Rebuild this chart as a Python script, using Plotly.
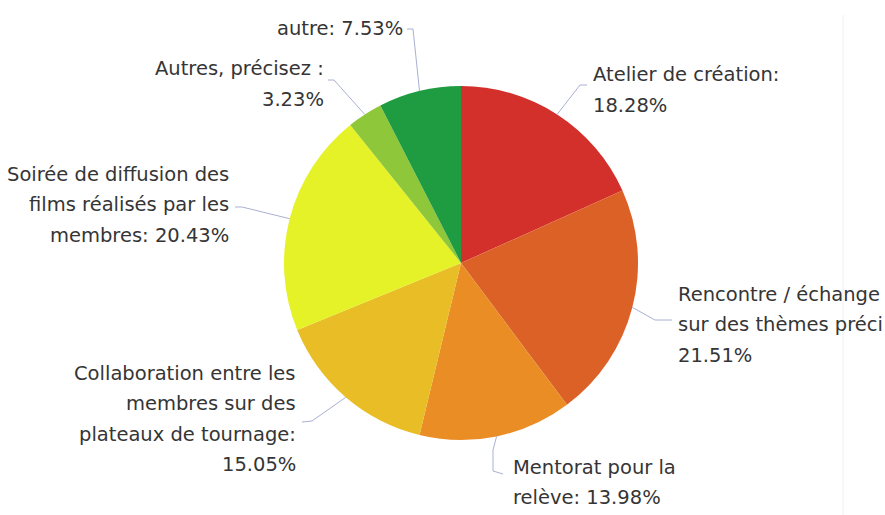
import math
import plotly.graph_objects as go

# ---- data ----
categories = [
    "Atelier de création",
    "Rencontre / échange sur des thèmes préci",
    "Mentorat pour la relève",
    "Collaboration entre les membres sur des plateaux de tournage",
    "Soirée de diffusion des films réalisés par les membres",
    "Autres, précisez :",
    "autre",
]
values = [18.28, 21.51, 13.98, 15.05, 20.43, 3.23, 7.53]
label_lines = [
    ["Atelier de création:", "18.28%"],
    ["Rencontre / échange", "sur des thèmes préci", "21.51%"],
    ["Mentorat pour la", "relève: 13.98%"],
    ["Collaboration entre les", "membres sur des", "plateaux de tournage:", "15.05%"],
    ["Soirée de diffusion des", "films réalisés par les", "membres: 20.43%"],
    ["Autres, précisez :", "3.23%"],
    ["autre: 7.53%"],
]
colors = ["#d4302b", "#dc6127", "#ea8d25", "#e9bd25", "#e6f228", "#8ec73a", "#1f9c42"]

# ---- layout (pixels in the screenshot) ----
W, H = 885, 515
CX, CY, R = 461, 263, 177
LINE_GAP = 30.5
# text anchor side, x, y of first line, leader-line knee points (after slice edge)
label_layout = [
    ("left", 591, 75, [(580, 85), (587, 85)]),
    ("left", 676, 294, [(655, 320), (672, 320)]),
    ("left", 511, 467, [(493, 450), (493, 471), (503, 474)]),
    ("right", 298, 373, [(312, 421), (302, 422)]),
    ("right", 231, 174, [(242, 207), (235, 207)]),
    ("right", 326, 69, [(334, 80), (328, 80)]),
    ("right", 405, 28, [(413, 29), (407, 29)]),
]


def px(x):
    return x / W


def py(y):
    return 1 - y / H


fig = go.Figure(
    go.Pie(
        labels=categories,
        values=values,
        sort=False,
        direction="clockwise",
        rotation=0,
        textinfo="none",
        hoverinfo="label+percent",
        marker=dict(colors=colors, line=dict(width=0)),
        domain=dict(x=[px(CX - R), px(CX + R)], y=[py(CY + R), py(CY - R)]),
        showlegend=False,
    )
)

annotations = []
shapes = []
total = sum(values)
cum = 0.0
for v, lines, (side, tx, ty, knees) in zip(values, label_lines, label_layout):
    mid = (cum + v / 2) / total * 2 * math.pi
    cum += v
    ex = CX + R * math.sin(mid)
    ey = CY - R * math.cos(mid)
    pts = [(ex, ey)] + knees
    for (x0, y0), (x1, y1) in zip(pts[:-1], pts[1:]):
        shapes.append(dict(type="line", xref="paper", yref="paper",
                           x0=px(x0), y0=py(y0), x1=px(x1), y1=py(y1),
                           line=dict(color="#aab0d2", width=1)))
    for i, line in enumerate(lines):
        annotations.append(dict(
            text=line, xref="paper", yref="paper",
            x=px(tx), y=py(ty + i * LINE_GAP),
            xanchor=side, yanchor="middle", showarrow=False,
            font=dict(family="DejaVu Sans", size=19.5, color="#353535"),
        ))

# faint scan frame on the right
shapes.append(dict(type="line", xref="paper", yref="paper",
                   x0=px(843), y0=py(15), x1=px(843), y1=py(515),
                   line=dict(color="#eef0f4", width=1)))

fig.update_layout(
    width=W, height=H,
    margin=dict(l=0, r=0, t=0, b=0),
    paper_bgcolor="white",
    plot_bgcolor="white",
    annotations=annotations,
    shapes=shapes,
)

fig.write_html(
    "out.html",
    config={"displayModeBar": False},
    post_script="document.body.style.margin='0';document.body.style.overflow='hidden';",
)
